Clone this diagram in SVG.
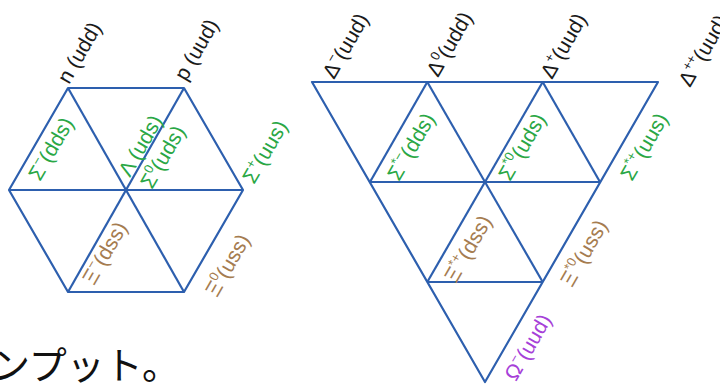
<svg xmlns="http://www.w3.org/2000/svg" width="720" height="386" viewBox="0 0 720 386">
<style>
.ln{stroke:#2d5fae;stroke-width:2.2;fill:none;stroke-linejoin:round}
.t{font-family:"Liberation Sans",Arial,sans-serif;font-size:21px}
.k{fill:#1a1a1a}.g{fill:#2aa745}.b{fill:#a57c50}.p{fill:#a640d8}
.sup{font-size:13px}
.jp{font-family:"Noto Sans CJK JP",sans-serif;font-size:38px;fill:#111}
</style>
<rect width="720" height="386" fill="#fff"/>
<g id="connectors">
<g id="hexagon-lines">
<polygon class="ln" points="68,88 184,88 243,190 184,292 68,292 9,190"/>
<line class="ln" x1="9" y1="190" x2="243" y2="190"/>
<line class="ln" x1="68" y1="88" x2="184" y2="292"/>
<line class="ln" x1="184" y1="88" x2="68" y2="292"/>
</g>
<g id="triangle-lines">
<polygon class="ln" points="312,82 658,82 485,382"/>
<line class="ln" x1="370" y1="182" x2="600" y2="182"/>
<line class="ln" x1="427.3" y1="282" x2="542.7" y2="282"/>
<line class="ln" x1="427.3" y1="82" x2="542.7" y2="282"/>
<line class="ln" x1="542.7" y1="82" x2="600" y2="182"/>
<line class="ln" x1="542.7" y1="82" x2="427.3" y2="282"/>
<line class="ln" x1="427.3" y1="82" x2="370" y2="182"/>
</g>
</g>
<g id="n" class="t k"><text transform="translate(69,85) rotate(-60)">n (udd)</text></g>
<g id="p" class="t k"><text transform="translate(186,82) rotate(-60)">p (uud)</text></g>
<g id="sigma-minus" class="t g"><text transform="translate(40,182) rotate(-60)">Σ<tspan class="sup" dy="-9">−</tspan><tspan dy="9">(dds)</tspan></text></g>
<g id="lambda" class="t g"><text transform="translate(130,178) rotate(-60)">Λ (uds)</text></g>
<g id="sigma-zero" class="t g"><text transform="translate(152,190) rotate(-60)">Σ<tspan class="sup" dy="-9">0</tspan><tspan dy="9">(uds)</tspan></text></g>
<g id="sigma-plus" class="t g"><text transform="translate(254,185) rotate(-60)">Σ<tspan class="sup" dy="-9">+</tspan><tspan dy="9">(uus)</tspan></text></g>
<g id="xi-minus" class="t b"><text transform="translate(94,286) rotate(-60)">Ξ<tspan class="sup" dy="-9">−</tspan><tspan dy="9">(dss)</tspan></text></g>
<g id="xi-zero" class="t b"><text transform="translate(217,298) rotate(-60)">Ξ<tspan class="sup" dy="-9">0</tspan><tspan dy="9">(uss)</tspan></text></g>
<g id="delta-minus" class="t k"><text transform="translate(334,80) rotate(-60)">Δ<tspan class="sup" dy="-9">−</tspan><tspan dy="9">(uud)</tspan></text></g>
<g id="delta-zero" class="t k"><text transform="translate(438,78) rotate(-60)">Δ<tspan class="sup" dy="-9">0</tspan><tspan dy="9">(udd)</tspan></text></g>
<g id="delta-plus" class="t k"><text transform="translate(552,80) rotate(-60)">Δ<tspan class="sup" dy="-9">+</tspan><tspan dy="9">(uud)</tspan></text></g>
<g id="delta-plusplus" class="t k"><text transform="translate(690,88) rotate(-60)">Δ<tspan class="sup" dy="-9">++</tspan><tspan dy="9">(uud)</tspan></text></g>
<g id="sigma-star-minus" class="t g"><text transform="translate(399,182) rotate(-60)">Σ<tspan class="sup" dy="-9">*−</tspan><tspan dy="9">(dds)</tspan></text></g>
<g id="sigma-star-zero" class="t g"><text transform="translate(510,182) rotate(-60)">Σ<tspan class="sup" dy="-9">*0</tspan><tspan dy="9">(uds)</tspan></text></g>
<g id="sigma-star-plus" class="t g"><text transform="translate(632,182) rotate(-60)">Σ<tspan class="sup" dy="-9">*+</tspan><tspan dy="9">(uus)</tspan></text></g>
<g id="xi-star-plus" class="t b"><text transform="translate(456,284) rotate(-60)">Ξ<tspan class="sup" dy="-9">*+</tspan><tspan dy="9">(dss)</tspan></text></g>
<g id="xi-star-zero" class="t b"><text transform="translate(572,288) rotate(-60)">Ξ<tspan class="sup" dy="-9">*0</tspan><tspan dy="9">(uss)</tspan></text></g>
<g id="omega-minus" class="t p"><text transform="translate(516,382) rotate(-60)">Ω<tspan class="sup" dy="-9">−</tspan><tspan dy="9">(uud)</tspan></text></g>
<g id="caption"><text class="jp" x="-8" y="379">ンプット。</text></g>
</svg>
